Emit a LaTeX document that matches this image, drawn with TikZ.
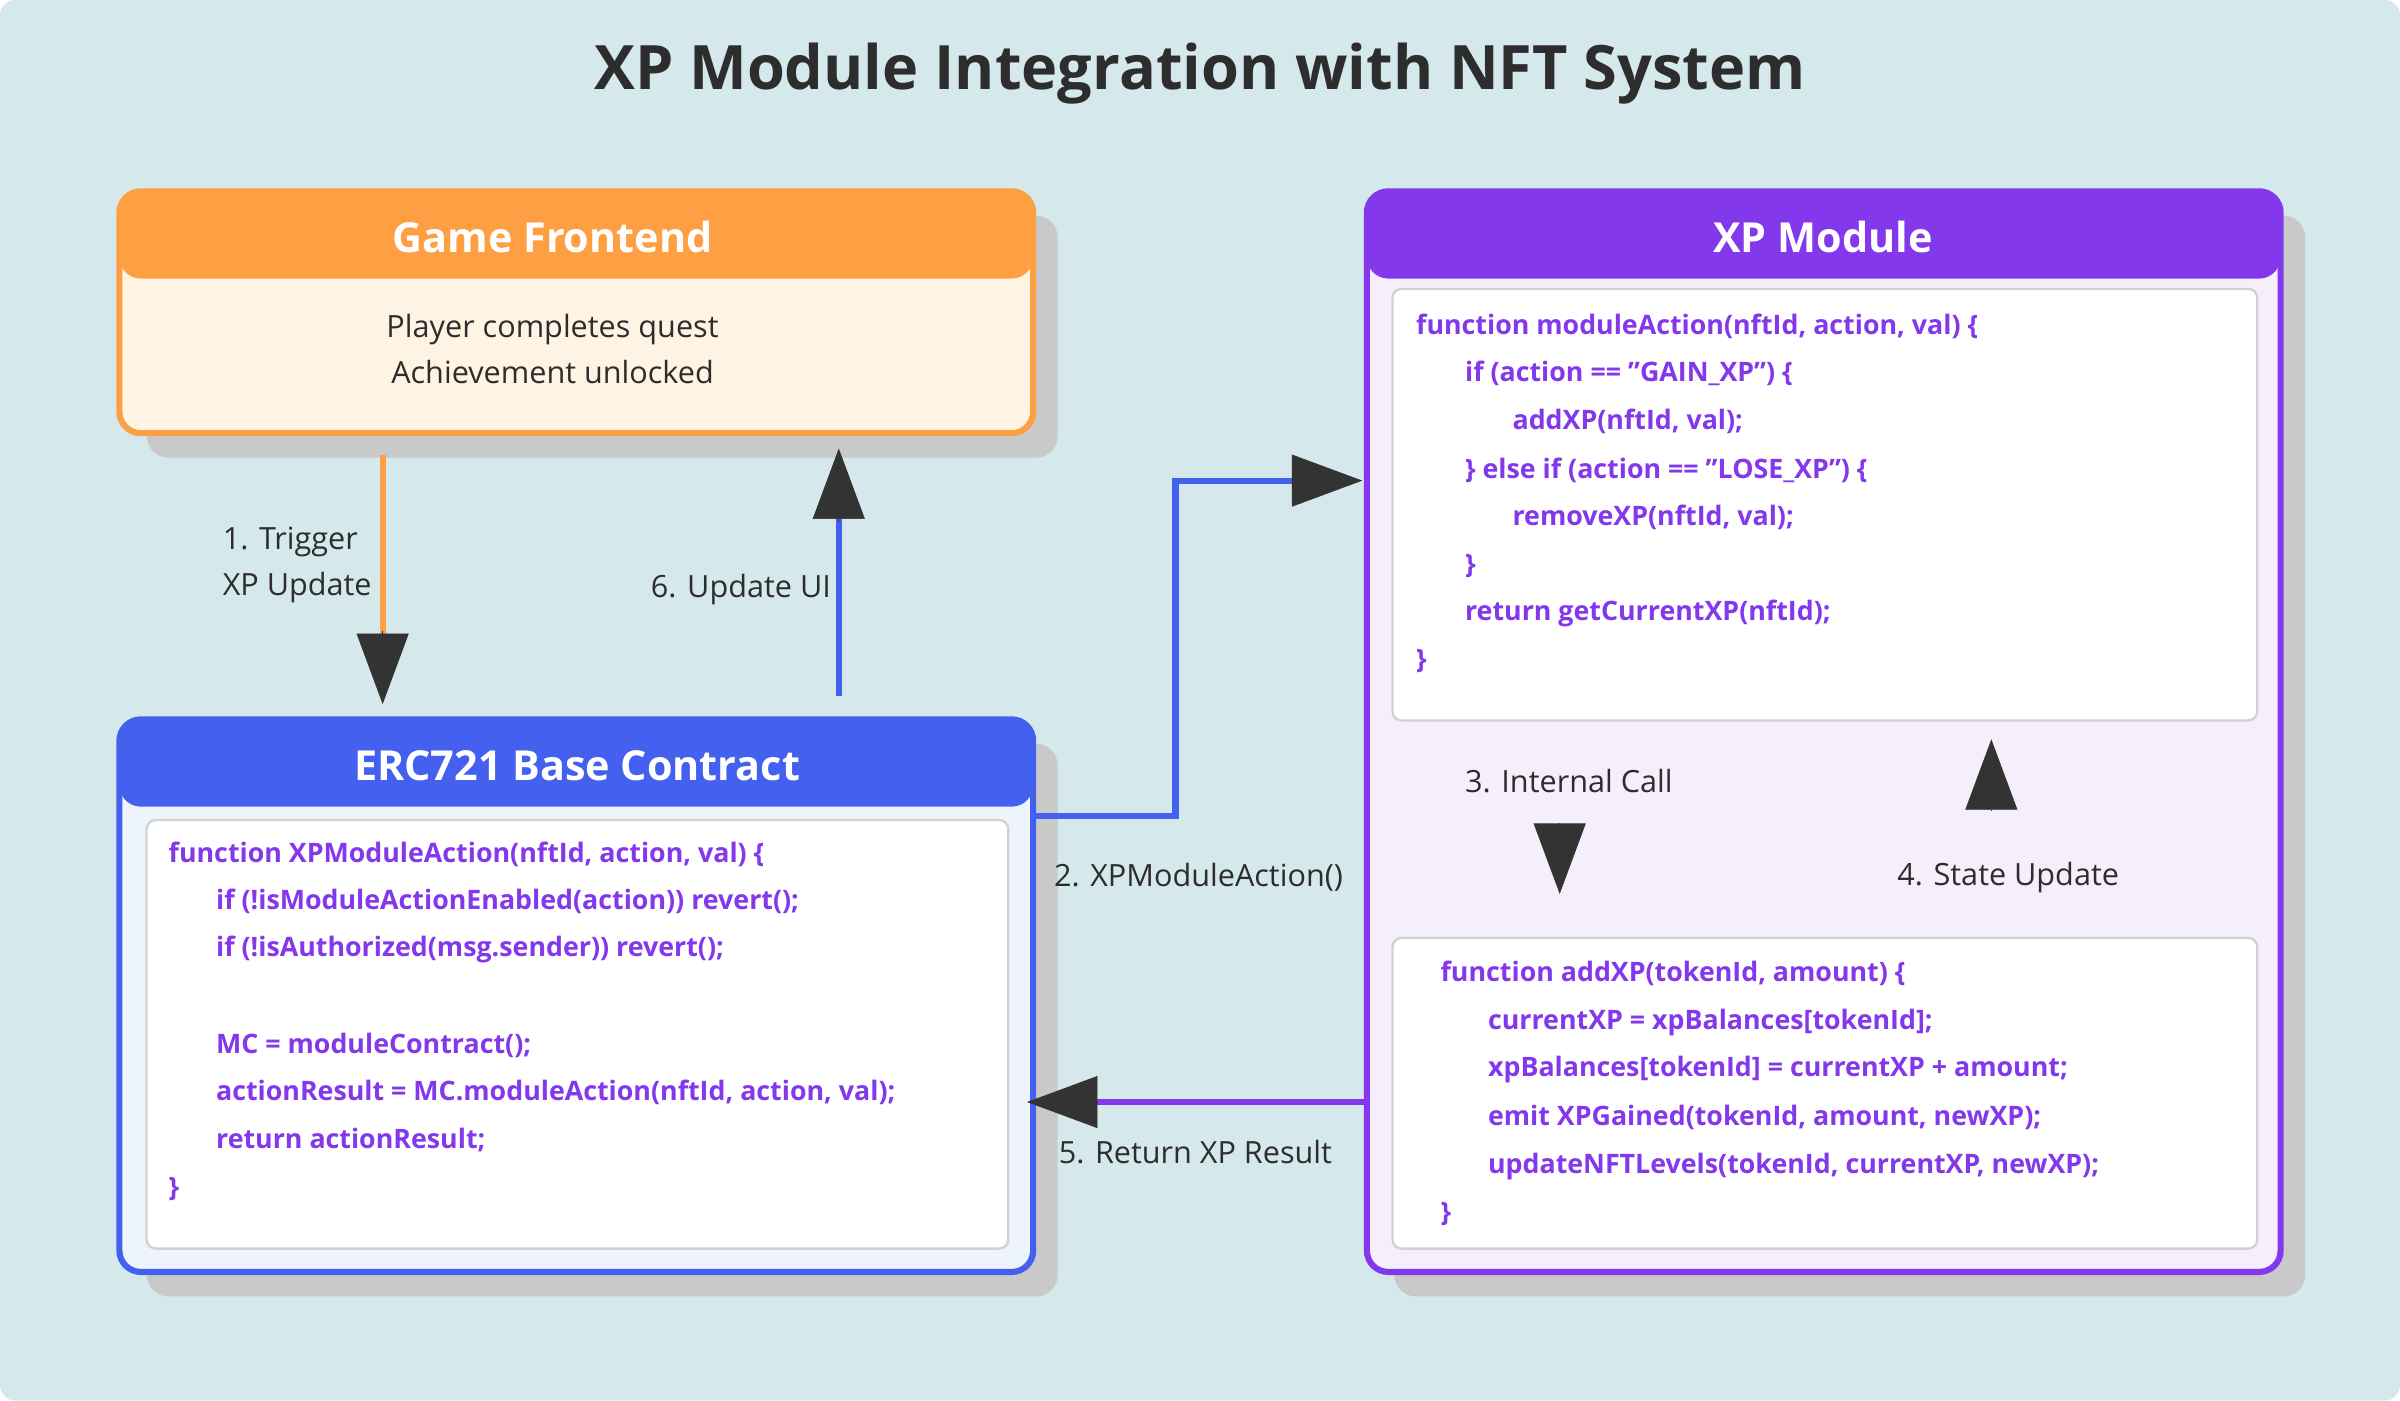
\documentclass[tikz,border=0pt]{standalone}
\usepackage{fontspec}
\setmainfont{Open Sans}
\usetikzlibrary{arrows.meta}
\definecolor{bg}{HTML}{D5E8EC}
\definecolor{orng}{HTML}{FF9F43}
\definecolor{orbody}{HTML}{FFF3E3}
\definecolor{blu}{HTML}{4361EE}
\definecolor{blbody}{HTML}{EEF4FB}
\definecolor{pur}{HTML}{8338EC}
\definecolor{pubody}{HTML}{F5EFFB}
\definecolor{codec}{HTML}{8338EC}
\definecolor{shad}{HTML}{C9C9C9}
\definecolor{dk}{HTML}{333333}
\definecolor{txt}{HTML}{2D2D2D}
\tikzset{
  hd/.style={font=\fontsize{27}{32}\selectfont\bfseries, text=white},
  lbl/.style={font=\fontsize{20}{30}\selectfont, text=txt, align=left, inner sep=0},
  cd/.style={font=\fontsize{17.5}{22}\selectfont\bfseries, text=codec, anchor=west, inner sep=0},
  inbox/.style={draw=black!18, line width=1.5pt, fill=white, rounded corners=6},
  tip/.style={-{Triangle[width=34,length=46]}, dk},
  conn/.style={line width=4pt}
}
\newcommand{\card}[6]{% x1 y1 x2 y2 headcolor bodycolor
  \fill[shad, rounded corners=14] (#1+18,#2+16) rectangle (#3+16,#4+16);
  \fill[#6, rounded corners=14] (#1,#2) rectangle (#3,#4);
  \fill[#5, rounded corners=14] (#1,#2) rectangle (#3,#2+57);
  \draw[#5, line width=4pt, rounded corners=14] (#1,#2) rectangle (#3,#4);
}
\begin{document}
\begin{tikzpicture}[x=1pt,y=-1pt]
\fill[bg, rounded corners=10] (0,0) rectangle (1568,915);
\useasboundingbox (0,0) rectangle (1568,915);
\node (title) at (784,48) {\fontsize{40}{48}\selectfont\bfseries\color{txt} XP Module Integration with NFT System};

% Game Frontend
\card{78}{125}{675}{283}{orng}{orbody}
\node[hd] (gf) at (361,155) {Game Frontend};
\node[lbl, align=center] (gft) at (361,228) {Player completes quest\\Achievement unlocked};

% ERC721
\card{78}{470}{675}{831}{blu}{blbody}
\node[hd] (erc) at (377,500) {ERC721 Base Contract};
\node[inbox, minimum width=563, minimum height=280, anchor=north west] (ercin) at (95,535) {};
\node[cd] at (110,558) {function XPModuleAction(nftId, action, val) \{};
\node[cd] at (141,589) {if (!isModuleActionEnabled(action)) revert();};
\node[cd] at (141,620) {if (!isAuthorized(msg.sender)) revert();};
\node[cd] at (141,683) {MC = moduleContract();};
\node[cd] at (141,714) {actionResult = MC.moduleAction(nftId, action, val);};
\node[cd] at (141,745) {return actionResult;};
\node[cd] at (110,777) {\}};

% XP Module
\card{893}{125}{1490}{831}{pur}{pubody}
\node[hd] (xp) at (1191,155) {XP Module};
\node[inbox, minimum width=565, minimum height=282, anchor=north west] (xpin1) at (909,188) {};
\node[cd] at (925,213) {function moduleAction(nftId, action, val) \{};
\node[cd] at (957,244) {if (action == "GAIN\_XP") \{};
\node[cd] at (988,275) {addXP(nftId, val);};
\node[cd] at (957,307) {\} else if (action == "LOSE\_XP") \{};
\node[cd] at (988,338) {removeXP(nftId, val);};
\node[cd] at (957,370) {\}};
\node[cd] at (957,401) {return getCurrentXP(nftId);};
\node[cd] at (925,432) {\}};
\node[inbox, minimum width=565, minimum height=203, anchor=north west] (xpin2) at (909,612) {};
\node[cd] at (941,636) {function addXP(tokenId, amount) \{};
\node[cd] at (972,668) {currentXP = xpBalances[tokenId];};
\node[cd] at (972,699) {xpBalances[tokenId] = currentXP + amount;};
\node[cd] at (972,730) {emit XPGained(tokenId, amount, newXP);};
\node[cd] at (972,762) {updateNFTLevels(tokenId, currentXP, newXP);};
\node[cd] at (941,793) {\}};

% connectors
\coordinate (a1s) at (250,297); \coordinate (a1e) at (250,460);
\draw[orng, conn] (a1s) -- (250,420);
\draw[tip] (250,412) -- (a1e);
\node[lbl, anchor=east] (l1) at (243,369) {1. Trigger\\XP Update};

\coordinate (a6s) at (548,455); \coordinate (a6e) at (548,293);
\draw[blu, conn] (a6s) -- (548,335);
\draw[tip] (548,341) -- (a6e);
\node[lbl, anchor=east] (l6) at (543,385) {6. Update UI};

\coordinate (a2s) at (675,533); \coordinate (a2e) at (890,314);
\draw[blu, conn] (a2s) -- (768,533) -- (768,314) -- (850,314);
\draw[tip] (844,314) -- (a2e);
\node[lbl] (l2) at (783,573) {2. XPModuleAction()};

\coordinate (a5s) at (893,720); \coordinate (a5e) at (671,720);
\draw[pur, conn] (a5s) -- (712,720);
\draw[tip] (717,720) -- (a5e);
\node[lbl] (l5) at (781,753) {5. Return XP Result};

\coordinate (a3s) at (1019,538); \coordinate (a3e) at (1019,584);
\draw[tip] (a3s) -- (a3e);
\node[lbl] (l3) at (1025,510) {3. Internal Call};
\coordinate (a4s) at (1301,529); \coordinate (a4e) at (1301,483);
\draw[tip] (a4s) -- (a4e);
\node[lbl] (l4) at (1312,573) {4. State Update};
\end{tikzpicture}
\end{document}
